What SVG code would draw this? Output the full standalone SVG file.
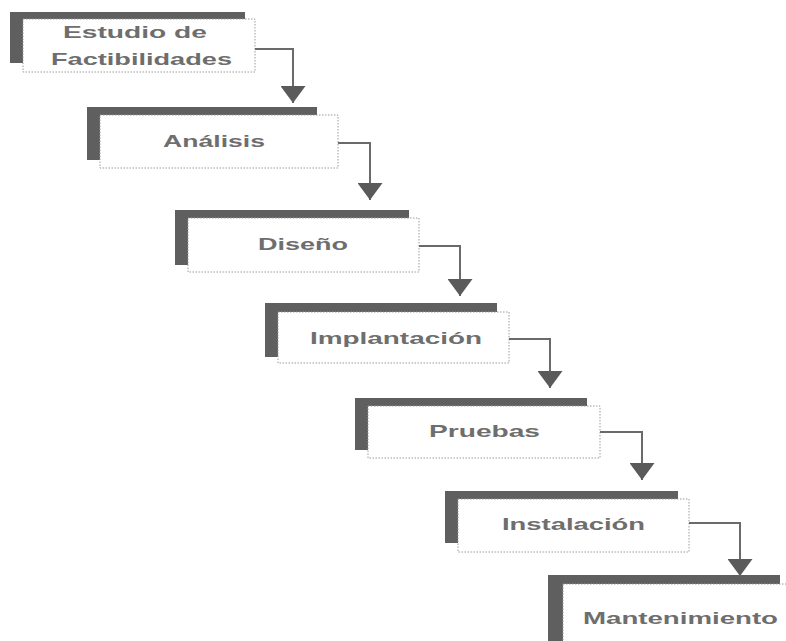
<svg xmlns="http://www.w3.org/2000/svg" width="786" height="641" viewBox="0 0 786 641">
  <defs>
    <style>
      .shadow { fill: #5f5f5f; }
      .card { fill: #ffffff; stroke: #9a9a9a; stroke-width: 1; stroke-dasharray: 1.5 1.5; }
      .label { font-family: "Liberation Sans", Arial, sans-serif; font-size: 17px; font-weight: bold; fill: #6e6e6e; text-anchor: middle; }
      .flow { fill: none; stroke: #6a6a6a; stroke-width: 2; }
    </style>
    <marker id="head" markerUnits="userSpaceOnUse" markerWidth="17" markerHeight="25" viewBox="0 0 17 25" refX="17" refY="12.5" orient="auto">
      <path d="M0,0 L17,12.5 L0,25 Z" fill="#5a5a5a"/>
    </marker>
  </defs>

  <rect width="786" height="641" fill="#ffffff"/>

  <!-- process stages: dark offset block behind a white card -->
  <g id="estudio">
    <rect class="shadow" x="10" y="12" width="235" height="51"/>
    <rect class="card" x="23" y="19" width="232" height="53"/>
    <text class="label" x="135" y="38" textLength="144" lengthAdjust="spacingAndGlyphs">Estudio de</text>
    <text class="label" x="141.5" y="65" textLength="181" lengthAdjust="spacingAndGlyphs">Factibilidades</text>
  </g>

  <g id="analisis">
    <rect class="shadow" x="87" y="107" width="230" height="53"/>
    <rect class="card" x="100" y="115" width="238" height="53"/>
    <text class="label" x="214" y="147" textLength="102" lengthAdjust="spacingAndGlyphs">Análisis</text>
  </g>

  <g id="diseno">
    <rect class="shadow" x="175" y="210" width="234" height="55"/>
    <rect class="card" x="188" y="218" width="231" height="54"/>
    <text class="label" x="303" y="250" textLength="90" lengthAdjust="spacingAndGlyphs">Diseño</text>
  </g>

  <g id="implantacion">
    <rect class="shadow" x="265" y="303" width="232" height="54"/>
    <rect class="card" x="278" y="312" width="231" height="51"/>
    <text class="label" x="396" y="344" textLength="172" lengthAdjust="spacingAndGlyphs">Implantación</text>
  </g>

  <g id="pruebas">
    <rect class="shadow" x="355" y="398" width="232" height="52"/>
    <rect class="card" x="368" y="406" width="232" height="52"/>
    <text class="label" x="484.5" y="437" textLength="111" lengthAdjust="spacingAndGlyphs">Pruebas</text>
  </g>

  <g id="instalacion">
    <rect class="shadow" x="445" y="491" width="233" height="52"/>
    <rect class="card" x="458" y="499" width="231" height="53"/>
    <text class="label" x="573.5" y="530" textLength="143" lengthAdjust="spacingAndGlyphs">Instalación</text>
  </g>

  <g id="mantenimiento">
    <rect class="shadow" x="548" y="575" width="232" height="70"/>
    <rect class="card" x="563" y="584" width="232" height="60"/>
    <text class="label" x="680.5" y="624" textLength="195" lengthAdjust="spacingAndGlyphs">Mantenimiento</text>
  </g>

  <!-- elbow connectors between consecutive stages -->
  <g id="connectors">
    <path class="flow" d="M255,49 H293 V103" marker-end="url(#head)"/>
    <path class="flow" d="M338,143 H370 V200" marker-end="url(#head)"/>
    <path class="flow" d="M419,246 H460 V296" marker-end="url(#head)"/>
    <path class="flow" d="M509,339 H550 V388" marker-end="url(#head)"/>
    <path class="flow" d="M600,432 H642 V480" marker-end="url(#head)"/>
    <path class="flow" d="M689,523 H740 V576" marker-end="url(#head)"/>
  </g>
</svg>
